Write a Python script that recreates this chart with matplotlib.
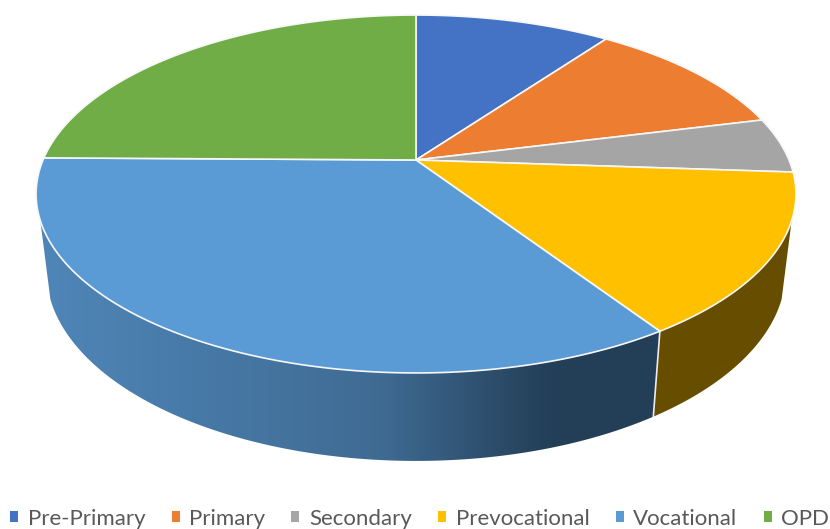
import numpy as np
import matplotlib
matplotlib.use("Agg")
import matplotlib.pyplot as plt
from matplotlib.colors import LinearSegmentedColormap
from matplotlib.patches import Patch, Polygon

categories = ["Pre-Primary", "Primary", "Secondary", "Prevocational", "Vocational", "OPD"]
values = [10.0, 11.1, 5.0, 14.63, 34.47, 24.8]
colors = ["#4472C4", "#ED7D31", "#A5A5A5", "#FFC000", "#5B9BD5", "#70AD47"]

CX = 416
TOP = dict(y0=160, a=172.5, c=0.19, r=373)
BOTTOM = dict(y0=235, a=183, c=0.19, r=363)
# the visible wall starts where cos(t) drops below this
WALL_S = -0.33


def project(t, plane):
    # t is the angle clockwise from 12 o'clock, in radians
    s = np.cos(t)
    d = 1 + plane["c"] * s
    return np.column_stack((CX + plane["r"] * np.sin(t) / d, plane["y0"] - plane["a"] * s / d))


def arc(t0, t1, plane, n=120):
    return project(np.linspace(t0, t1, n), plane)


fig = plt.figure(figsize=(8.3, 5.29), dpi=100)
ax = fig.add_axes([0, 0, 1, 1])
ax.axis("off")

edges = np.concatenate(([0], np.cumsum(values))) / sum(values) * 2 * np.pi
wall_start = np.pi - np.arccos(-WALL_S)
wall_end = np.pi + np.arccos(-WALL_S)

# walls, only prevocational and vocational face the viewer
yellow_wall = np.vstack((arc(wall_start, edges[4], TOP), arc(edges[4], wall_start, BOTTOM)))
ax.add_patch(Polygon(yellow_wall, closed=True, facecolor="#664D00", edgecolor="none", zorder=1))

blue_wall = np.vstack((arc(edges[4], wall_end, TOP), arc(wall_end, edges[4], BOTTOM)))
blue_patch = Polygon(blue_wall, closed=True, facecolor="none", edgecolor="none", zorder=1)
ax.add_patch(blue_patch)
wall_cmap = LinearSegmentedColormap.from_list(
    "wall", [(0, "#4F86B8"), (0.55, "#3F6B93"), (0.82, "#243F58"), (1, "#233F57")])
grad = ax.imshow(np.linspace(0, 1, 256).reshape(1, -1), cmap=wall_cmap, aspect="auto",
                 extent=(blue_wall[:, 0].min(), blue_wall[:, 0].max(), 470, 190), zorder=1)
grad.set_clip_path(blue_patch)
ax.set_xlim(0, 830)
ax.set_ylim(529, 0)

ax.plot(*np.vstack((project(edges[4:5], TOP), project(edges[4:5], BOTTOM))).T,
        color="#EDEDED", lw=1.2, zorder=2)

# top face
apex = [[CX, TOP["y0"]]]
for i in range(len(values)):
    pts = np.vstack((apex, arc(edges[i], edges[i + 1], TOP)))
    ax.add_patch(Polygon(pts, closed=True, facecolor=colors[i], edgecolor="#F7F7F7",
                         lw=1.2, joinstyle="round", zorder=3))

handles = [Patch(facecolor=c, edgecolor="none") for c in colors]
ax.legend(handles, categories, ncol=6, loc="center", bbox_to_anchor=(0.5056, 0.0195), frameon=False,
          prop={"family": "Lato", "size": 16}, labelcolor="#595959", handlelength=0.36,
          handleheight=0.36, handletextpad=0.43, columnspacing=1.18, borderpad=0, borderaxespad=0)

fig.savefig("out.png", dpi=100)
